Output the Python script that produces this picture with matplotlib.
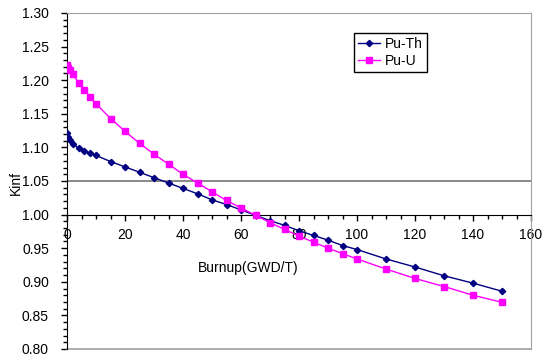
import matplotlib
matplotlib.use("Agg")
import matplotlib.pyplot as plt
from matplotlib.ticker import MultipleLocator

plt.rcParams['font.family'] = ['Liberation Sans', 'DejaVu Sans']

# Donnees

burnup = [0, 0.5, 1, 2, 4, 6, 8, 10, 15, 20, 25, 30, 35, 40, 45, 50, 55, 60, 65,
          70, 75, 80, 85, 90, 95, 100, 110, 120, 130, 140, 150]

kinf_pu_th = [1.122, 1.116, 1.111, 1.105, 1.099, 1.095, 1.091, 1.088, 1.079, 1.071,
              1.063, 1.055, 1.047, 1.039, 1.031, 1.022, 1.015, 1.007, 0.999,
              0.991, 0.984, 0.976, 0.969, 0.962, 0.954, 0.948, 0.934, 0.922,
              0.909, 0.898, 0.886]

kinf_pu_u = [1.222, 1.218, 1.215, 1.209, 1.196, 1.185, 1.175, 1.165, 1.143, 1.124,
             1.106, 1.090, 1.075, 1.060, 1.047, 1.034, 1.021, 1.010, 0.999,
             0.988, 0.978, 0.968, 0.959, 0.950, 0.942, 0.934, 0.919, 0.905,
             0.893, 0.880, 0.8695]

seuil = 1.05

# Figure

fig = plt.figure(figsize=(5.44, 3.56), dpi=100)
ax = fig.add_axes([67/544, 1-349/356, 464/544, 336/356])

ax.axhline(seuil, color='#808080', lw=1.3, zorder=1)
ax.plot(burnup, kinf_pu_th, color='#000080', marker='D', markersize=3.2, lw=1, label='Pu-Th', zorder=3)
ax.plot(burnup, kinf_pu_u, color='#FF00FF', marker='s', markersize=4, lw=1, label='Pu-U', zorder=3)

ax.set_xlim(0, 160)
ax.set_ylim(0.80, 1.30)

ax.xaxis.set_major_locator(MultipleLocator(20))
ax.xaxis.set_minor_locator(MultipleLocator(5))
ax.yaxis.set_major_locator(MultipleLocator(0.05))
ax.yaxis.set_minor_locator(MultipleLocator(0.01))
ax.yaxis.set_major_formatter(plt.FormatStrFormatter('%.2f'))

# axe x qui croise a 1.00
ax.spines['bottom'].set_position(('data', 1.0))
ax.spines['bottom'].set_color('black')
ax.spines['left'].set_color('black')
ax.spines['top'].set_color('#A0A0A0')
ax.spines['right'].set_color('#A0A0A0')
ax.plot([0, 1], [0, 0], transform=ax.transAxes, color='#A0A0A0', lw=1.2, clip_on=False)

ax.tick_params(axis='x', which='major', direction='out', length=4, width=1, pad=6, labelsize=10)
ax.tick_params(axis='x', which='minor', direction='out', length=3, width=1)
ax.tick_params(axis='y', which='major', direction='out', length=4, width=1, pad=9, labelsize=10)
ax.tick_params(axis='y', which='minor', direction='out', length=3, width=1)

ax.text(62.4, 0.9205, 'Burnup(GWD/T)', ha='center', va='center', fontsize=10)
fig.text(16/544, 1-183/356, 'Kinf', rotation=90, ha='center', va='center', fontsize=10)

leg = ax.legend(loc='upper left', bbox_to_anchor=(0.6185, 0.9405), fontsize=10,
                frameon=True, fancybox=False, framealpha=1, handlelength=1.6,
                handletextpad=0.3, borderpad=0.3, labelspacing=0.2, borderaxespad=0)
leg.get_frame().set_edgecolor('black')
leg.get_frame().set_linewidth(1)

fig.savefig('out.png', dpi=100)
